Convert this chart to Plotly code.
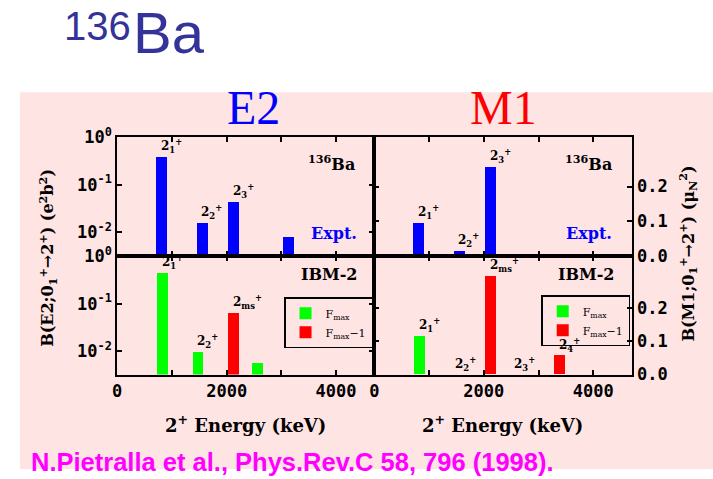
import numpy as np
import plotly.graph_objects as go

# ---- data -------------------------------------------------------------
# experimental 2+ states of 136Ba
expt_energy = [818, 1555, 2130, 3130]          # keV
expt_be2 = [0.377, 0.016, 0.044, 0.0079]       # e^2 b^2
expt_bm1 = [0.094, 0.016, 0.255, None]         # mu_N^2
expt_label = ["2<sub>1</sub><sup>+</sup>", "2<sub>2</sub><sup>+</sup>",
              "2<sub>3</sub><sup>+</sup>", ""]

# IBM-2 calculation
ibm_energy = [830, 1483, 2127, 2567, 3390]
ibm_be2 = [0.44, 0.0093, 0.063, 0.0056, None]
ibm_bm1 = [0.115, 0.0, 0.296, 0.0, 0.057]
ibm_sym = ["max", "max", "max-1", "max", "max-1"]
ibm_label = ["2<sub>1</sub><sup>+</sup>", "2<sub>2</sub><sup>+</sup>",
             "2<sub>ms</sub><sup>+</sup>", "2<sub>3</sub><sup>+</sup>",
             "2<sub>4</sub><sup>+</sup>"]
ibm_be2_labeled = [True, True, True, False, False]

x_ticks = [0, 1000, 2000, 3000, 4000]
x_ticktext = ["0", "", "2000", "", "4000"]
log_ticks = [1.0, 0.1, 0.01]
log_ticktext = ["10<sup>0</sup>", "10<sup>-1</sup>", "10<sup>-2</sup>"]
lin_ticks = [0.0, 0.1, 0.2]
lin_ticktext = ["0.0", "0.1", "0.2"]

# ---- style ------------------------------------------------------------
W, H = 713, 479
PINK = "#ffe4e4"
BLUE, GREEN, RED = "#0000ff", "#00ff00", "#ff0000"
SYM_COLOR = {"max": GREEN, "max-1": RED}
SYM_NAME = {"max": "F<sub>max</sub>", "max-1": "F<sub>max</sub>\u22121"}
SERIF = "DejaVu Serif"
TICKFONT = dict(family="DejaVu Sans Mono", size=17, color="black", weight="bold")
LABELFONT = dict(family=SERIF, size=12, color="black", weight="bold")

# panel boxes in pixels (left, right, top, bottom)
XL, XR = (113, 372), (372, 631)
YT, YB = (131, 256), (256, 380)


def px_x(p):
    return p / W


def px_y(p):
    return 1 - p / H


fig = go.Figure()

# experimental bars (top row)
fig.add_trace(go.Bar(x=expt_energy, y=expt_be2, width=200, marker_color=BLUE,
                     marker_line_width=0, showlegend=False,
                     xaxis="x", yaxis="y"))
m1_x = [e for e, v in zip(expt_energy, expt_bm1) if v is not None]
m1_y = [v for v in expt_bm1 if v is not None]
fig.add_trace(go.Bar(x=m1_x, y=m1_y, width=200, marker_color=BLUE,
                     marker_line_width=0, showlegend=False,
                     xaxis="x2", yaxis="y2"))

# IBM-2 bars (bottom row), split by F-spin
for sym in ["max", "max-1"]:
    ex = [e for e, s, v in zip(ibm_energy, ibm_sym, ibm_be2) if s == sym and v is not None]
    ey = [v for s, v in zip(ibm_sym, ibm_be2) if s == sym and v is not None]
    fig.add_trace(go.Bar(x=ex, y=ey, width=190, marker_color=SYM_COLOR[sym],
                         marker_line_width=0, name=SYM_NAME[sym],
                         legend="legend", xaxis="x3", yaxis="y3"))
    mx = [e for e, s in zip(ibm_energy, ibm_sym) if s == sym]
    my = [v for s, v in zip(ibm_sym, ibm_bm1) if s == sym]
    fig.add_trace(go.Bar(x=mx, y=my, width=190, marker_color=SYM_COLOR[sym],
                         marker_line_width=0, name=SYM_NAME[sym],
                         legend="legend2", xaxis="x4", yaxis="y4"))

annotations = []


def state_label(x, y, text, xref, yref):
    annotations.append(dict(x=x, y=y, xref=xref, yref=yref, text=text,
                            showarrow=False, xanchor="left", yanchor="bottom",
                            xshift=-3, yshift=0, font=LABELFONT))


for e, v, t in zip(expt_energy, expt_be2, expt_label):
    if t:
        state_label(e, np.log10(v), t, "x", "y")
for e, v, t in zip(expt_energy, expt_bm1, expt_label):
    if t and v is not None:
        state_label(e, v, t, "x2", "y2")
for e, v, t, ok in zip(ibm_energy, ibm_be2, ibm_label, ibm_be2_labeled):
    if ok and v is not None:
        state_label(e, np.log10(v), t, "x3", "y3")
for e, v, t in zip(ibm_energy, ibm_bm1, ibm_label):
    state_label(e, v, t, "x4", "y4")

# panel captions
for xr, yc, txt, col in [(354, 158, "<sup>136</sup>Ba", "black"),
                         (613, 158, "<sup>136</sup>Ba", "black"),
                         (356, 232, "Expt.", BLUE),
                         (613, 232, "Expt.", BLUE),
                         (358, 275, "IBM-2", "black"),
                         (616, 275, "IBM-2", "black")]:
    annotations.append(dict(x=px_x(xr), y=px_y(yc), xref="paper", yref="paper",
                            text=txt, showarrow=False,
                            xanchor="right", yanchor="middle",
                            font=dict(family=SERIF, size=16, color=col, weight="bold")))

# column headings
annotations.append(dict(x=px_x(250), y=px_y(100), xref="paper", yref="paper", text="E2",
                        showarrow=False, xanchor="center", yanchor="middle",
                        font=dict(family="Liberation Serif", size=48, color=BLUE)))
annotations.append(dict(x=px_x(502), y=px_y(100), xref="paper", yref="paper", text="M1",
                        showarrow=False, xanchor="center", yanchor="middle",
                        font=dict(family="Liberation Serif", size=48, color=RED)))

# x-axis titles
for xc in [(XL[0] + XL[1]) / 2, (XR[0] + XR[1]) / 2]:
    annotations.append(dict(x=px_x(xc), y=px_y(432), xref="paper", yref="paper",
                            text="2<sup>+</sup> Energy (keV)", showarrow=False,
                            xanchor="center", yanchor="middle",
                            font=dict(family=SERIF, size=18, color="black", weight="bold")))

# y-axis titles
annotations.append(dict(x=px_x(43), y=px_y(258), xref="paper", yref="paper",
                        text="B(E2;0<sub>1</sub><sup>+</sup>\u21922<sup>+</sup>) (e<sup>2</sup>b<sup>2</sup>)",
                        showarrow=False, textangle=-90, xanchor="center", yanchor="middle",
                        font=dict(family=SERIF, size=16, color="black", weight="bold")))
annotations.append(dict(x=px_x(688), y=px_y(253), xref="paper", yref="paper",
                        text="B(M1;0<sub>1</sub><sup>+</sup>\u21922<sup>+</sup>) (\u03bc<sub>N</sub><sup>2</sup>)",
                        showarrow=False, textangle=-90, xanchor="center", yanchor="middle",
                        font=dict(family=SERIF, size=16, color="black", weight="bold")))

# page title and reference
annotations.append(dict(x=px_x(57), y=px_y(15), xref="paper", yref="paper", text="136",
                        showarrow=False, xanchor="left", yanchor="middle",
                        font=dict(family="Liberation Sans", size=40, color="#333399")))
annotations.append(dict(x=px_x(127), y=px_y(22), xref="paper", yref="paper", text="Ba",
                        showarrow=False, xanchor="left", yanchor="middle",
                        font=dict(family="Liberation Sans", size=58, color="#333399")))
annotations.append(dict(x=px_x(24), y=px_y(472), xref="paper", yref="paper",
                        text="N.Pietralla et al., Phys.Rev.C 58, 796 (1998).",
                        showarrow=False, xanchor="left", yanchor="middle",
                        font=dict(family="Liberation Sans", size=25.5, color="#ff00ff",
                                  weight="bold")))

common_x = dict(range=[0, 4700], tickvals=x_ticks, ticks="inside", ticklen=5, tickwidth=1.5,
                tickcolor="black", showline=True, linecolor="black", linewidth=2,
                mirror="ticks", showgrid=False, zeroline=False, tickfont=TICKFONT)
common_y = dict(ticks="inside", ticklen=5, tickwidth=1.5, tickcolor="black", showline=True,
                linecolor="black", linewidth=2, mirror="ticks", showgrid=False,
                zeroline=False, tickfont=TICKFONT)
legend_style = dict(xanchor="left", yanchor="top", bordercolor="black", borderwidth=1.5,
                    bgcolor="rgba(0,0,0,0)", itemwidth=30, tracegroupgap=0,
                    font=dict(family=SERIF, size=11, color="black"))

fig.update_layout(
    width=W, height=H, margin=dict(l=0, r=0, t=0, b=0),
    paper_bgcolor="white", plot_bgcolor="rgba(0,0,0,0)",
    barmode="overlay", bargap=0,
    xaxis=dict(common_x, domain=[px_x(XL[0]), px_x(XL[1])], anchor="y", showticklabels=False),
    xaxis2=dict(common_x, domain=[px_x(XR[0]), px_x(XR[1])], anchor="y2", showticklabels=False),
    xaxis3=dict(common_x, domain=[px_x(XL[0]), px_x(XL[1])], anchor="y3", ticktext=x_ticktext),
    xaxis4=dict(common_x, domain=[px_x(XR[0]), px_x(XR[1])], anchor="y4", ticktext=x_ticktext),
    yaxis=dict(common_y, type="log", range=[-2.5, 0], domain=[px_y(YT[1]), px_y(YT[0])],
               anchor="x", tickvals=log_ticks, ticktext=log_ticktext),
    yaxis2=dict(common_y, range=[0, 0.342], domain=[px_y(YT[1]), px_y(YT[0])],
                anchor="x2", side="right", tickvals=lin_ticks, ticktext=lin_ticktext),
    yaxis3=dict(common_y, type="log", range=[-2.5, 0], domain=[px_y(YB[1]), px_y(YB[0])],
                anchor="x3", tickvals=log_ticks, ticktext=log_ticktext),
    yaxis4=dict(common_y, range=[0, 0.355], domain=[px_y(YB[1]), px_y(YB[0])],
                anchor="x4", side="right", tickvals=lin_ticks, ticktext=lin_ticktext),
    legend=dict(legend_style, x=px_x(281), y=px_y(299)),
    legend2=dict(legend_style, x=px_x(540), y=px_y(297)),
    annotations=annotations,
    shapes=[dict(type="rect", xref="paper", yref="paper", x0=px_x(15), x1=1.0,
                 y0=0, y1=px_y(84), fillcolor=PINK, line_width=0, layer="below")],
)

fig.write_html("out.html")
